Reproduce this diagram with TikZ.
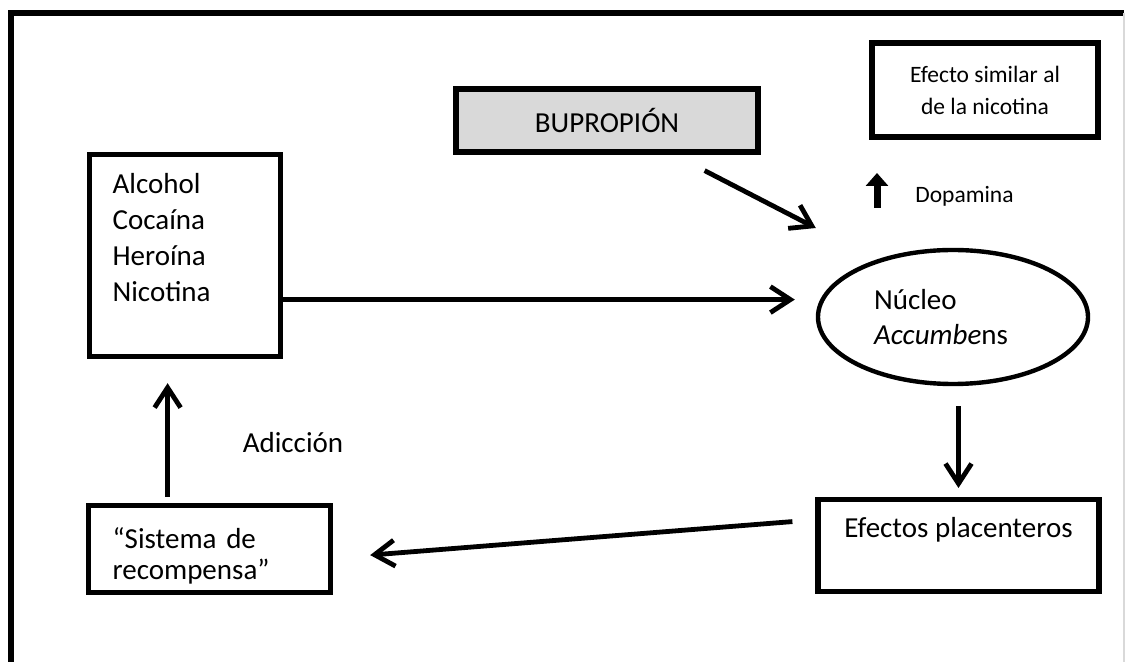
\documentclass[tikz,border=0pt]{standalone}
\usepackage{fontspec}
\setmainfont{Carlito}
\usepackage{tikz}
\usetikzlibrary{arrows.meta}
\usetikzlibrary{shapes}
\usetikzlibrary{positioning}

\newcommand{\bigtext}{\fontsize{14.5}{18}\selectfont}
\newcommand{\smalltext}{\fontsize{11.75}{16}\selectfont}

\begin{document}
\begin{tikzpicture}[x=0.5pt, y=-0.5pt]
            \tikzset{every node/.style={inner sep=0pt, font=\bigtext},
                    >={Straight Barb[length=10pt,width=13pt]},
                    every edge/.style={draw=black, line width=2.4pt},
                    box/.style={draw, line width=2.6pt}}
            \useasboundingbox (0,0) rectangle (1126,662);
            % outer frame
            \draw[line width=2.8pt] (11,680) -- (11,13) -- (1124,13);
            \draw[black!15, line width=0.8pt] (1124,13) -- (1124,662);
            % boxes
            \node[box, anchor=north west, align=left, text width=72.5pt, inner xsep=11.5pt,
                  text height=19.5pt, text depth=81.5pt] (drugs) at (87,152)
                  {Alcohol\\Cocaína\\Heroína\\Nicotina};
            \node[box, fill=black!15, minimum width=151pt, minimum height=31.5pt] (bup) at (607,120.5) {BUPROPIÓN};
            \node[box, align=center, font=\smalltext, minimum width=113pt, minimum height=47pt] (sim) at (985,90)
                  {Efecto similar al\\de la nicotina};
            \node[draw, ellipse, line width=2.2pt, align=left, minimum width=135pt, minimum height=67pt,
                  font=\fontsize{14.5}{17.5}\selectfont] (nac) at (953,317)
                  {Núcleo\\\textit{Accumbe}ns\hspace*{12pt}};
            \node[box, anchor=north, minimum width=140.5pt, text height=19pt, text depth=27pt] (efe) at (958.5,497)
                  {Efectos placenteros};
            \node[box, anchor=north west, align=left, text width=97pt, inner xsep=12pt,
                  text height=21.5pt, text depth=22pt, font=\fontsize{14.5}{15.5}\selectfont] (sis) at (86,503)
                  {“Sistema de\\recompensa”};
            % labels
            \node (adi) at (293,443) {Adicción};
            \node[anchor=west, font=\smalltext] (dopa) at (915,196) {Dopamina};
            \coordinate (up0) at (877,208);
            \coordinate (up1) at (877,173);
            \draw[line width=3.5pt, -{Triangle[length=6.5pt,width=11pt]}] (up0) -- (up1);
            % connectors
            \path [->] ([yshift=-22pt]drugs.east) edge[shorten >=10.5pt] ([yshift=-22pt]drugs.east -| nac.west);
            \path [->] ([xshift=-28pt,yshift=-8pt]bup.south east) edge ([yshift=44.5pt]nac.west);
            \path [->] (nac.south -| efe.north) edge[shorten <=10pt, shorten >=4.5pt] (efe.north);
            \path [->] ([xshift=-11.5pt,yshift=12pt]efe.west) edge ([xshift=18.5pt,yshift=-3pt]sis.east);
            \path [->] ([xshift=-21pt,yshift=3pt]sis.north) edge ([xshift=-8.75pt,yshift=-12pt]drugs.south);
        \end{tikzpicture}
\end{document}
